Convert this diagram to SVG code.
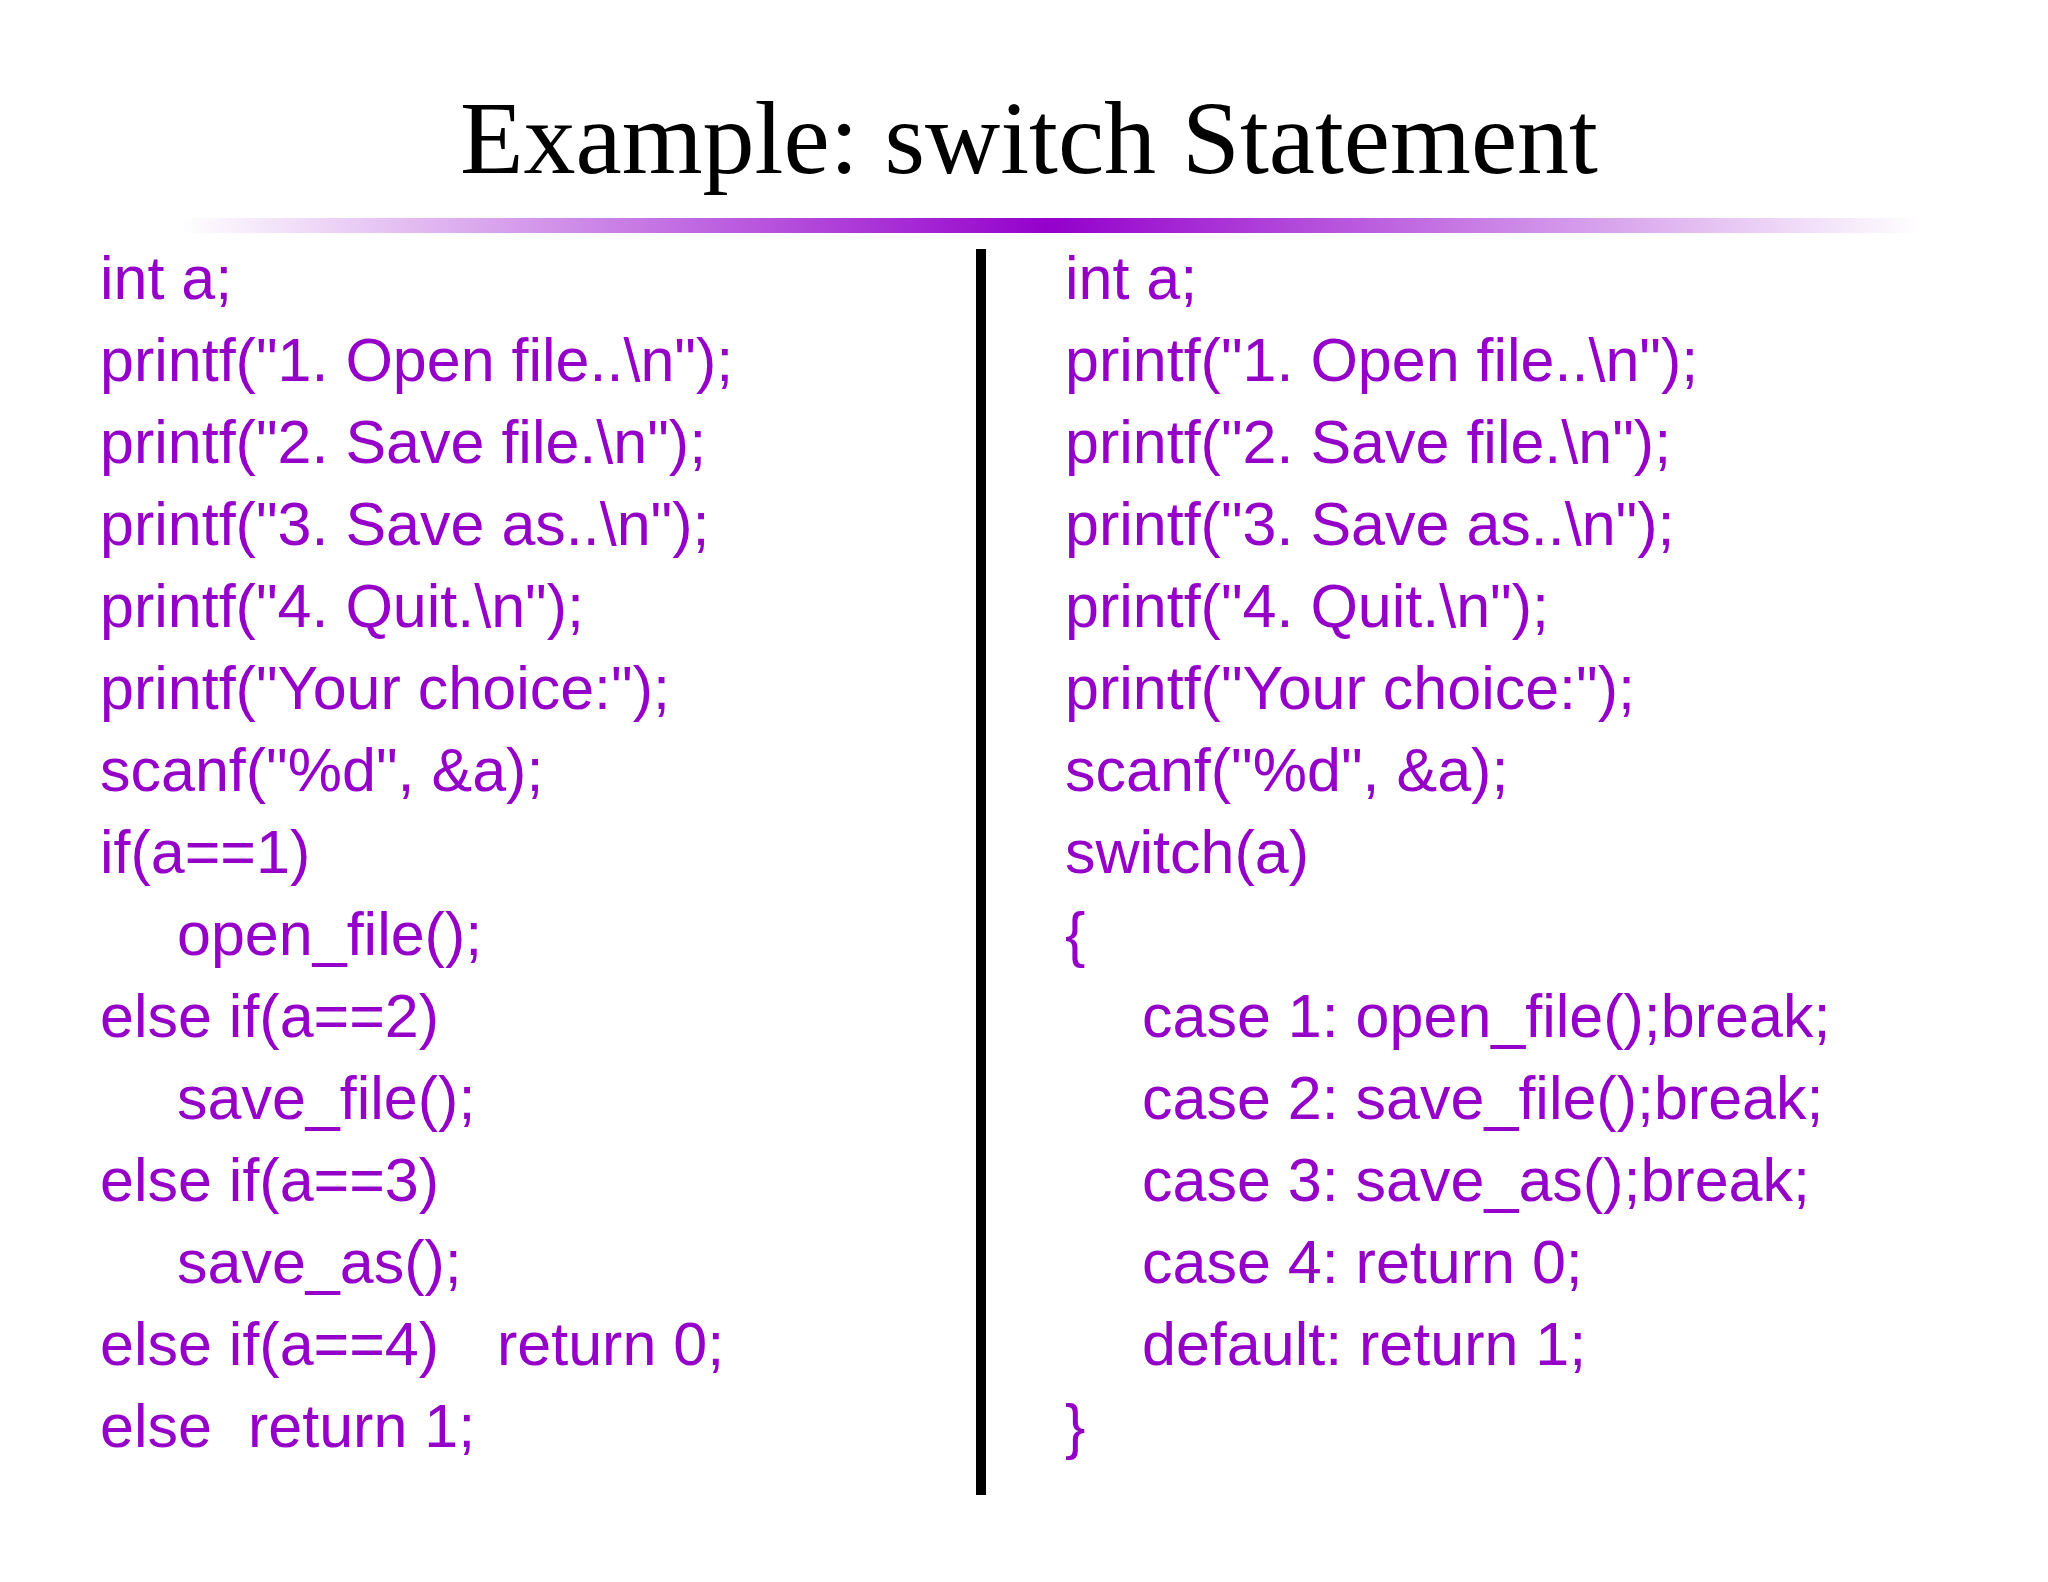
<svg xmlns="http://www.w3.org/2000/svg" width="2048" height="1582" viewBox="0 0 2048 1582">
<defs>
<linearGradient id="bar" x1="0" x2="1" y1="0" y2="0">
<stop offset="0" stop-color="#9400CC" stop-opacity="0"/>
<stop offset="0.5" stop-color="#9400CC" stop-opacity="1"/>
<stop offset="1" stop-color="#9400CC" stop-opacity="0"/>
</linearGradient>
<style>
.c{font-family:"Liberation Sans",Arial,sans-serif;font-size:61px;fill:#9400C8}
.t{font-family:"Liberation Serif","Times New Roman",serif;font-size:104px;fill:#000}
</style>
</defs>
<rect width="2048" height="1582" fill="#fff"/>
<g id="title"><text class="t" x="1029" y="173" text-anchor="middle">Example: switch Statement</text></g>
<g id="bar"><rect x="180" y="218" width="1740" height="15" fill="url(#bar)"/></g>
<g id="divider"><rect x="976" y="249" width="10" height="1246" fill="#000"/></g>
<g id="left">
<text class="c" x="100" y="299">int a;</text>
<text class="c" x="100" y="381">printf("1. Open file..\n");</text>
<text class="c" x="100" y="463">printf("2. Save file.\n");</text>
<text class="c" x="100" y="545">printf("3. Save as..\n");</text>
<text class="c" x="100" y="627">printf("4. Quit.\n");</text>
<text class="c" x="100" y="709">printf("Your choice:");</text>
<text class="c" x="100" y="791">scanf("%d", &amp;a);</text>
<text class="c" x="100" y="873">if(a==1)</text>
<text class="c" x="177" y="955">open_file();</text>
<text class="c" x="100" y="1037">else if(a==2)</text>
<text class="c" x="177" y="1119">save_file();</text>
<text class="c" x="100" y="1201">else if(a==3)</text>
<text class="c" x="177" y="1283">save_as();</text>
<text class="c" x="100" y="1365">else if(a==4)</text>
<text class="c" x="497" y="1365">return 0;</text>
<text class="c" x="100" y="1447">else</text>
<text class="c" x="248" y="1447">return 1;</text>
</g>
<g id="right">
<text class="c" x="1065" y="299">int a;</text>
<text class="c" x="1065" y="381">printf("1. Open file..\n");</text>
<text class="c" x="1065" y="463">printf("2. Save file.\n");</text>
<text class="c" x="1065" y="545">printf("3. Save as..\n");</text>
<text class="c" x="1065" y="627">printf("4. Quit.\n");</text>
<text class="c" x="1065" y="709">printf("Your choice:");</text>
<text class="c" x="1065" y="791">scanf("%d", &amp;a);</text>
<text class="c" x="1065" y="873">switch(a)</text>
<text class="c" x="1065" y="955">{</text>
<text class="c" x="1142" y="1037">case 1: open_file();break;</text>
<text class="c" x="1142" y="1119">case 2: save_file();break;</text>
<text class="c" x="1142" y="1201">case 3: save_as();break;</text>
<text class="c" x="1142" y="1283">case 4: return 0;</text>
<text class="c" x="1142" y="1365">default: return 1;</text>
<text class="c" x="1065" y="1447">}</text>
</g>
</svg>
